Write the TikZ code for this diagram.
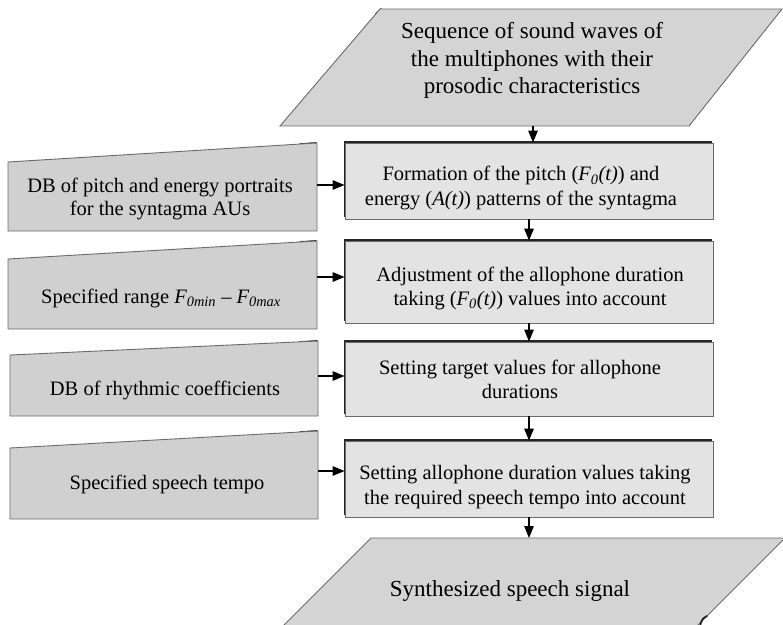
\documentclass[tikz,border=0pt]{standalone}
\usepackage{fontspec}
\setmainfont{Liberation Serif}
\usetikzlibrary{arrows.meta,shadows}

\definecolor{edgegray}{HTML}{6A6A6A}
\definecolor{procfill}{HTML}{E3E3E3}
\definecolor{dbfill}{HTML}{D0D0D0}
\definecolor{iofill}{HTML}{D4D4D4}

\begin{document}
\begin{tikzpicture}[x=1pt,y=-1pt,
  procbox/.style={draw=edgegray, fill=procfill, line width=0.9pt,
    minimum width=368pt, inner sep=0pt,
    drop shadow={shadow xshift=-1.3pt, shadow yshift=1.7pt, fill=black!85, opacity=1}},
  dbbox/.style={draw=edgegray, fill=dbfill, line width=0.9pt},
  iobox/.style={draw=edgegray, fill=iofill, line width=0.9pt},
  boxtext/.style={align=center, inner sep=0pt, font=\fontsize{20.5}{24.2}\selectfont},
  iotext/.style={align=center, inner sep=0pt, font=\fontsize{23}{27.5}\selectfont},
  arr/.style={draw=black, line width=1.3pt, -{Triangle[length=12pt,width=9.5pt]}},
  shade/.style={draw=black!85, line width=1.8pt, line cap=round}
]
\useasboundingbox (0,0) rectangle (783,624);
\clip (0,0) rectangle (783,624);

% input: sequence of multiphones
\draw[shade] (376,14) -- (381,9);
\path[iobox] (380,9) -- (782,9) -- (689,126) -- (280,126) -- cycle;
\node[iotext] (seqt) at (532,60.5)
  {Sequence of sound waves of\\the multiphones with their\\prosodic characteristics};
\coordinate (seq) at (533,126);

% processing steps
\node[procbox, minimum height=76pt] (f1) at (529,181) {};
\node[boxtext] (f1t) at (521,188)
  {Formation of the pitch (\textit{F\textsubscript{0}(t)}) and\\
   energy (\textit{A(t)}) patterns of the syntagma};

\node[procbox, minimum height=82pt] (f2) at (529,282) {};
\node[boxtext] (f2t) at (530,288.5)
  {Adjustment of the allophone duration\\
   taking (\textit{F\textsubscript{0}(t)}) values into account};

\node[procbox, minimum height=74pt] (f3) at (529,379) {};
\node[boxtext] (f3t) at (520,379)
  {Setting target values for allophone\\durations};

\node[procbox, minimum height=76pt] (f4) at (529,479) {};
\node[boxtext] (f4t) at (525,487)
  {Setting allophone duration values taking\\
   the required speech tempo into account};

% databases and parameters (manual input shapes)
\draw[shade] (300,144.2) -- (316,143);
\path[dbbox] (8,162) -- (317,143) -- (317,231) -- (8,231) -- cycle;
\node[boxtext, font=\fontsize{20.5}{22.5}\selectfont] (d1t) at (160,199)
  {DB of pitch and energy portraits\\for the syntagma AUs};
\coordinate (d1) at (317,185);

\draw[shade] (300,242.1) -- (316,241);
\path[dbbox] (8,259) -- (317,241) -- (317,329) -- (8,329) -- cycle;
\node[boxtext] (d2t) at (161,298)
  {Specified range \textit{F\textsubscript{0min}} -- \textit{F\textsubscript{0max}}};
\coordinate (d2) at (317,277);

\draw[shade] (300,342.1) -- (317,341);
\path[dbbox] (10,355) -- (318,341) -- (318,416) -- (10,416) -- cycle;
\node[boxtext] (d3t) at (165,390) {DB of rhythmic coefficients};
\coordinate (d3) at (318,376);

\draw[shade] (300,432.1) -- (317,431);
\path[dbbox] (10,448) -- (318,431) -- (318,519) -- (10,519) -- cycle;
\node[boxtext] (d4t) at (167,484) {Specified speech tempo};
\coordinate (d4) at (318,471);

% output: synthesized signal
\path[iobox] (371,538) -- (785,538) -- (678,645) -- (264,645) -- cycle;
\draw[shade] (707,616) .. controls (702,619) .. (700,626);
\node[iotext] (outt) at (510,591) {Synthesized speech signal};
\coordinate (out) at (529,538);

% main flow
\draw[arr] (seq) -- (seq |- f1.north);
\draw[arr] (f1.south) -- (f2.north);
\draw[arr] (f2.south) -- (f3.north);
\draw[arr] (f3.south) -- (f4.north);
\draw[arr] (f4.south) -- (out);

% side inputs
\draw[arr] (d1) -- (d1 -| f1.west);
\draw[arr] (d2) -- (d2 -| f2.west);
\draw[arr] (d3) -- (d3 -| f3.west);
\draw[arr] (d4) -- (d4 -| f4.west);
\end{tikzpicture}
\end{document}
